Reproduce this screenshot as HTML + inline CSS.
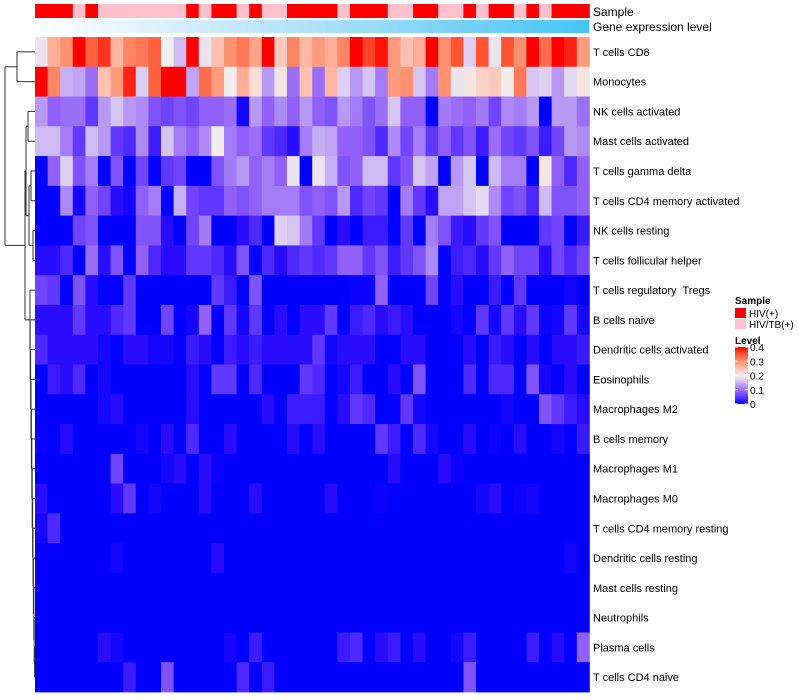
<!DOCTYPE html>
<html><head><meta charset="utf-8">
<style>
html,body{margin:0;padding:0;background:#fff;}
svg{display:block;font-family:"Liberation Sans",sans-serif;}
#rowlabels text{white-space:pre;}
</style></head>
<body>
<svg id="chart" width="800" height="700" viewBox="0 0 800 700">
  <g id="dendro" stroke="#333" stroke-width="1" fill="none"></g>
  <g id="annot"></g>
  <g id="cells"></g>
  <g id="rowlabels" font-size="11" fill="#000"></g>
  <text x="593" y="16" font-size="12">Sample</text>
  <text x="593" y="31" font-size="12">Gene expression level</text>
  <g>
    <text x="735" y="304" font-size="10" font-weight="bold">Sample</text>
    <rect x="735" y="308" width="11" height="10" fill="#ff0000"/>
    <text x="749" y="317" font-size="10">HIV(+)</text>
    <rect x="735" y="319" width="11" height="10" fill="#ffc0cb"/>
    <text x="749" y="328" font-size="10">HIV/TB(+)</text>
    <text x="735" y="344" font-size="10" font-weight="bold">Level</text>
    <defs>
      <linearGradient id="lvl" x1="0" y1="1" x2="0" y2="0">
        <stop offset="0" stop-color="#0000ff"/><stop offset="0.125" stop-color="#6038ff"/>
        <stop offset="0.25" stop-color="#9c70f8"/><stop offset="0.4" stop-color="#d5c5f3"/>
        <stop offset="0.5" stop-color="#f2eeee"/><stop offset="0.625" stop-color="#ffc0b0"/>
        <stop offset="0.75" stop-color="#ff9070"/><stop offset="0.875" stop-color="#ff5535"/>
        <stop offset="1" stop-color="#ff0000"/>
      </linearGradient>
      <linearGradient id="gel" x1="0" y1="0" x2="1" y2="0">
        <stop offset="0" stop-color="#ffffff"/><stop offset="0.5" stop-color="#b0e0f8"/><stop offset="1" stop-color="#45c5f5"/>
      </linearGradient>
    </defs>
    <rect x="735" y="347" width="13" height="57" fill="url(#lvl)"/>
    <g id="lvlticks" font-size="10"></g>
  </g>
</svg>
<script>
const rowNames = ["T cells CD8","Monocytes","NK cells activated","Mast cells activated","T cells gamma delta","T cells CD4 memory activated","NK cells resting","T cells follicular helper","T cells regulatory  Tregs","B cells naive","Dendritic cells activated","Eosinophils","Macrophages M2","B cells memory","Macrophages M1","Macrophages M0","T cells CD4 memory resting","Dendritic cells resting","Mast cells resting","Neutrophils","Plasma cells","T cells CD4 naive"];
const sampleGroups = "RRRPRPPPPPPPRPRRPRPPRRRRPRRRPPRRPPRPRRPRPRRR".split("");
const levelTicks = [0,0.1,0.2,0.3,0.4];
const r0=[.19,.27,.30,.40,.34,.37,.26,.31,.32,.34,.20,.15,.40,.19,.25,.30,.32,.28,.40,.24,.31,.26,.29,.27,.31,.40,.36,.39,.29,.25,.27,.40,.30,.35,.17,.35,.19,.35,.30,.40,.33,.40,.38,.29];
const r1=[.40,.31,.14,.13,.09,.25,.29,.38,.17,.34,.40,.40,.13,.33,.29,.20,.27,.22,.12,.21,.09,.25,.09,.26,.17,.12,.16,.10,.29,.30,.16,.10,.30,.19,.21,.23,.24,.20,.32,.16,.17,.12,.18,.21];
const r2=[.12,.08,.09,.09,.05,.12,.16,.12,.11,.07,.06,.07,.06,.08,.08,.09,.01,.12,.08,.11,.08,.12,.08,.07,.12,.10,.07,.09,.16,.08,.08,0,.10,.09,.08,.10,.06,.11,.10,.12,0,.12,.12,.09];
const r3=[.15,.15,.10,.05,.15,.12,.05,.04,.11,.03,.16,.10,.08,.11,.20,.10,.08,.09,.05,.04,.02,.10,.14,.13,.08,.08,.07,.04,.11,.06,.10,.05,.08,.05,.07,.03,.09,.06,.05,.07,.03,.06,.12,.11];
const r4=[0,.08,.17,.07,.10,0,.07,0,.06,0,.05,.06,0,0,.07,.10,.12,.08,.10,.08,.19,0,.19,.14,.07,.08,.15,.15,.05,.07,.16,.13,0,.12,.16,0,.15,.10,.10,0,.21,.08,.04,.08];
const r5=[0,0,.11,.01,.08,.06,.02,.01,.08,.10,0,.14,.06,.05,.05,.08,.07,.08,.10,.10,.10,.07,.08,.07,.12,.04,.06,.05,0,.10,.05,.02,.13,.13,.16,.18,.11,.06,.07,.04,.15,.07,.07,.08];
const r6=[0,0,0,.06,.07,0,0,0,.07,.07,.02,0,.06,.10,0,0,.02,.04,0,.17,.16,.10,.05,0,.02,0,.03,.03,0,.05,0,.10,.07,.03,.02,.05,.07,0,0,0,.05,.06,0,.03];
const r7=[.02,.02,.04,0,.09,.02,.07,0,.08,.04,.02,.02,.05,.05,.04,.02,.07,0,.04,.02,.04,.05,.04,.05,.08,.08,.05,.07,.03,.05,.07,.11,0,.03,.04,.02,.05,.08,.06,.06,.02,.06,.04,.06];
const r8=[.06,.05,0,.07,.02,0,0,.05,0,0,0,0,0,0,.05,.03,0,.07,0,0,0,0,0,0,0,.005,.005,.08,0,0,0,.06,0,.02,0,0,.03,0,.05,0,0,0,.01,0];
const r9=[.02,.02,.02,.05,.02,.02,.04,.05,0,0,.06,0,.01,.08,0,.05,.01,.05,0,.02,0,.02,.02,.05,0,.03,.04,.02,.03,.02,0,0,0,.01,0,.05,.01,.05,.02,.05,.005,.01,.05,.01];
const r10=[.04,.02,.02,.02,.02,.01,0,.02,.02,.01,.01,0,.03,.02,0,.03,.02,.03,.02,.02,.02,.02,.05,.01,.02,.02,.02,0,0,.02,.02,0,0,0,.02,0,.03,.02,0,.02,0,.02,.02,.03];
const r11=[0,.03,.02,.04,0,.01,0,0,0,0,0,0,.02,0,.05,.05,0,.04,0,0,0,.05,.04,0,.01,.03,0,0,.02,0,.07,0,0,0,.04,0,.04,.04,0,.07,.01,0,.02,0];
const r12=[0,0,0,0,0,.01,.02,0,0,0,0,0,.02,0,0,0,0,0,.02,0,.03,.03,.03,0,.02,.05,.04,0,0,.05,.01,0,0,0,0,0,0,.01,0,0,.07,.05,.03,.02];
const r13=[.005,0,.02,0,0,0,0,0,.01,0,.02,0,.04,0,0,.02,0,0,0,0,.02,0,.02,0,0,0,0,.05,.03,0,.04,.01,0,0,.02,0,.005,0,.02,0,0,.01,0,.03];
const r14=[0,0,0,0,0,0,.06,0,0,0,.01,.02,0,.02,.005,0,0,0,0,0,0,0,0,0,0,0,0,0,.02,0,0,0,.02,.005,0,0,0,0,0,0,0,0,0,0];
const r15=[.02,0,0,0,0,0,.02,.05,0,.01,0,0,0,.02,0,0,0,.02,0,0,0,0,0,.02,0,0,0,.005,0,0,0,0,0,0,0,.01,.02,0,.005,.01,0,0,0,0];
const r16=[.01,.04,0,0,0,0,0,0,0,0,0,0,0,0,0,0,0,0,0,0,0,0,0,0,0,0,0,0,0,0,0,0,0,0,0,0,0,0,0,0,0,0,0,0];
const r17=[0,0,0,0,0,0,.01,0,0,0,0,0,0,0,.02,0,0,0,0,0,0,0,0,0,0,0,0,0,0,0,0,0,0,0,0,0,0,0,0,0,0,0,.01,0];
const r18=[0,0,0,0,0,0,0,0,0,0,0,0,0,0,0,0,0,0,0,0,0,0,0,0,0,0,0,0,0,0,0,0,0,0,0,0,0,0,0,0,0,0,0,0];
const r19=[0,0,0,0,0,0,0,0,0,0,0,0,0,0,0,0,0,0,0,0,0,0,0,0,0,0,0,0,0,0,0,0,0,0,0,0,0,0,0,0,0,0,0,0];
const r20=[0,0,0,0,0,.02,.01,0,0,0,0,0,0,0,0,.01,0,.03,0,0,0,0,0,0,.03,.04,0,.02,.03,0,.02,0,0,.01,.03,0,0,0,0,.03,0,.02,0,.08];
const r21=[0,0,0,0,0,0,0,.03,0,0,.07,0,0,0,0,0,.04,0,.03,0,0,0,0,0,0,0,0,0,0,0,0,0,0,0,.07,0,0,0,0,0,0,0,0,0];
const levelValues=[r0,r1,r2,r3,r4,r5,r6,r7,r8,r9,r10,r11,r12,r13,r14,r15,r16,r17,r18,r19,r20,r21];

const NS="http://www.w3.org/2000/svg";
const X0=35, X1=589.4, Y0=37, Y1=692;
const nCol=sampleGroups.length, nRow=rowNames.length;
const cw=(X1-X0)/nCol, rh=(Y1-Y0)/nRow;
const xPos=c=>X0+c*cw, yPos=r=>Y0+r*rh;
const stops=[[0,[0,0,255]],[.02,[42,12,255]],[.05,[96,56,255]],[.08,[144,96,248]],[.12,[184,152,245]],[.16,[213,197,243]],[.2,[242,238,238]],[.25,[255,192,176]],[.3,[255,144,112]],[.35,[255,85,53]],[.4,[255,0,0]]];
function colorOf(v){
  v=Math.max(0,Math.min(0.4,v));
  for(let i=1;i<stops.length;i++){
    if(v<=stops[i][0]){const a=stops[i-1],b=stops[i];const t=(v-a[0])/(b[0]-a[0]);
      const c=a[1].map((x,k)=>Math.round(x+(b[1][k]-x)*t));return `rgb(${c[0]},${c[1]},${c[2]})`;}
  }
  return "rgb(255,0,0)";
}
function mk(tag,attrs,parent){const e=document.createElementNS(NS,tag);for(const k in attrs)e.setAttribute(k,attrs[k]);parent.appendChild(e);return e;}

const annot=document.getElementById('annot');
sampleGroups.forEach((g,c)=>{
  const e=mk('rect',{x:xPos(c),y:4,width:cw+0.4,height:14,fill:g==="R"?"#ff0000":"#ffc0cb"},annot);
  
  
});
const ge=mk('rect',{x:X0,y:20,width:X1-X0,height:13,fill:"url(#gel)"},annot);



const cells=document.getElementById('cells');
levelValues.forEach((row,r)=>{
  row.forEach((v,c)=>{
    const e=mk('rect',{x:xPos(c),y:yPos(r),width:cw+0.4,height:rh+0.4,fill:colorOf(v)},cells);
    
    
  });
});
const rl=document.getElementById('rowlabels');
rowNames.forEach((n,r)=>{
  const t=mk('text',{x:593,y:yPos(r)+rh/2+4},rl);
  t.setAttribute('xml:space','preserve');
  t.textContent=n;
  
  
});
const lt=document.getElementById('lvlticks');
levelTicks.forEach(v=>{
  const y=404-(v/0.4)*57;
  const l1=mk('line',{x1:735,x2:738,y1:y,y2:y,stroke:"#fff","stroke-width":1},lt);
  
  
  const l2=mk('line',{x1:745,x2:748,y1:y,y2:y,stroke:"#fff","stroke-width":1},lt);
  
  
  const t=mk('text',{x:750,y:y+4},lt);
  t.textContent=String(v);
  
  
});
const dg=document.getElementById('dendro');
const yc=r=>yPos(r)+rh/2;
function seg(x1,y1,x2,y2){const e=mk('line',{x1,y1,x2,y2},dg);}
function join(x,ya,yb,xa,xb){seg(x,ya,x,yb);seg(x,ya,xa,ya);seg(x,yb,xb,yb);}
join(17,yc(0),yc(1),35,35);
join(28,yc(2),yc(3),35,35);
join(31,yc(4),yc(5),35,35);
join(33,yc(6),yc(7),35,35);
join(29,(yc(4)+yc(5))/2,(yc(6)+yc(7))/2,31,33);
join(26,(yc(2)+yc(3))/2,((yc(4)+yc(5))/2+(yc(6)+yc(7))/2)/2,28,29);
let prevY=yc(21), prevX=35;
for(let r=20;r>=8;r--){const x=Math.max(30,35-(21-r)*0.4);join(x,yc(r),prevY,35,prevX);prevY=(yc(r)+prevY)/2;prevX=x;}
const topMid=(yc(0)+yc(1))/2;
const upMid=((yc(2)+yc(3))/2+((yc(4)+yc(5))/2+(yc(6)+yc(7))/2)/2)/2;
join(25,upMid,prevY,26,prevX);
join(5,topMid,(upMid+prevY)/2,17,25);
</script>
</body></html>
